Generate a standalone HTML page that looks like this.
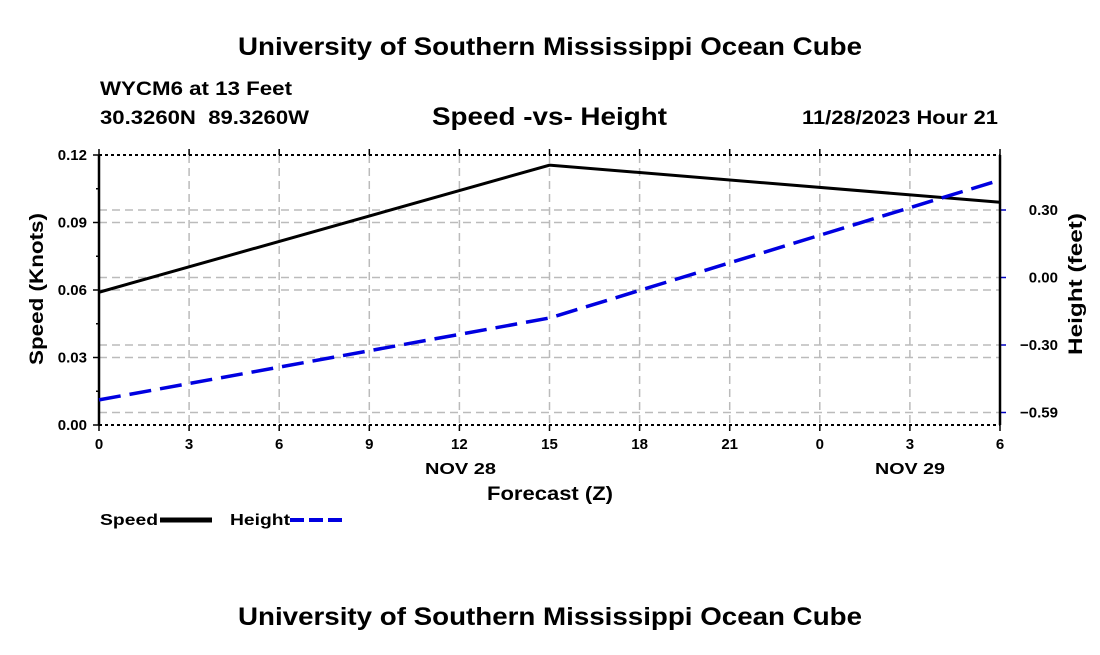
<!DOCTYPE html>
<html><head><meta charset="utf-8"><style>
body{margin:0;background:#fff;width:1100px;height:650px;overflow:hidden}
svg text{font-family:"Liberation Sans",Arial,sans-serif;font-weight:bold;fill:#000}
</style></head><body>
<svg id="chart" width="1100" height="650" xmlns="http://www.w3.org/2000/svg">
<text x="238" y="55" font-size="25" textLength="624" lengthAdjust="spacingAndGlyphs">University of Southern Mississippi Ocean Cube</text>
<text x="100" y="95" font-size="19" textLength="192" lengthAdjust="spacingAndGlyphs">WYCM6 at 13 Feet</text>
<text x="100" y="124" font-size="19" textLength="209" lengthAdjust="spacingAndGlyphs" xml:space="preserve">30.3260N  89.3260W</text>
<text x="432" y="125" font-size="25" textLength="235" lengthAdjust="spacingAndGlyphs">Speed -vs- Height</text>
<text x="802" y="124" font-size="19" textLength="196" lengthAdjust="spacingAndGlyphs">11/28/2023 Hour 21</text>
<text x="238" y="625" font-size="25" textLength="624" lengthAdjust="spacingAndGlyphs">University of Southern Mississippi Ocean Cube</text>
<g id="grid"></g><g id="axes"></g><g id="series"></g>
<text transform="translate(43,365) rotate(-90)" font-size="19" textLength="152" lengthAdjust="spacingAndGlyphs">Speed (Knots)</text>
<text transform="translate(1082,355) rotate(-90)" font-size="19" textLength="142" lengthAdjust="spacingAndGlyphs">Height (feet)</text>
<text x="487" y="500" font-size="19" textLength="126" lengthAdjust="spacingAndGlyphs">Forecast (Z)</text>
<text x="425" y="474" font-size="16" textLength="71" lengthAdjust="spacingAndGlyphs">NOV 28</text>
<text x="875" y="474" font-size="16" textLength="70" lengthAdjust="spacingAndGlyphs">NOV 29</text>
<g><text x="100" y="525" font-size="16" textLength="58" lengthAdjust="spacingAndGlyphs">Speed</text><line x1="160" y1="520" x2="212" y2="520" stroke="#000" stroke-width="5"/></g>
<g><text x="230" y="525" font-size="16" textLength="60" lengthAdjust="spacingAndGlyphs">Height</text><line x1="290" y1="520" x2="342" y2="520" stroke="#0000e0" stroke-width="4" stroke-dasharray="14,5"/></g>
</svg>
<script>
const hours=[0,15,30];
const speedVals=[0.059,0.1155,0.099];
const heightVals=[-0.544,-0.18,0.433];
const xTickLabels=["0","3","6","9","12","15","18","21","0","3","6"];
const yTicks=[0,0.03,0.06,0.09,0.12];
const y2Ticks=[0.3,0,-0.3,-0.6];
const y2TickLabels=["0.30","0.00","\u22120.30","\u22120.59"];
const L=99,R=1000,T=155,B=425;
const xs=h=>L+h*(R-L)/30;
const ys=v=>B-v*(B-T)/0.12;
const y2s=v=>277.5-v*225;
const NS="http://www.w3.org/2000/svg";
function mk(tag,attrs,parent){const e=document.createElementNS(NS,tag);for(const k in attrs)e.setAttribute(k,attrs[k]);document.getElementById(parent).appendChild(e);return e;}
xTickLabels.forEach((lab,i)=>{const x=xs(i*3);
 if(i>0&&i<10){const g=mk('line',{x1:x,y1:T,x2:x,y2:B,stroke:'#bbb','stroke-width':1.5,'stroke-dasharray':'8,5'},'grid');
 
 }
 const t=mk('line',{x1:x,y1:B,x2:x,y2:B+6,stroke:'#000','stroke-width':1.5},'axes');
 
 
 mk('line',{x1:x,y1:T-6,x2:x,y2:T,stroke:'#000','stroke-width':1.5},'axes');
 const tx=mk('text',{x:x,y:B+24,'font-size':15,'text-anchor':'middle'},'axes');tx.textContent=lab;
 
 });
yTicks.forEach(v=>{const y=ys(v);
 if(v>0&&v<0.12){const g=mk('line',{x1:L,y1:y,x2:R,y2:y,stroke:'#bbb','stroke-width':1.5,'stroke-dasharray':'8,5'},'grid');
 
 }
 mk('line',{x1:L-6,y1:y,x2:L,y2:y,stroke:'#000','stroke-width':1.5},'axes');
 if(v<0.12)mk('line',{x1:L-3,y1:ys(v+0.015),x2:L,y2:ys(v+0.015),stroke:'#000','stroke-width':1.5},'axes');
 const tx=mk('text',{x:L-12,y:y+5,'font-size':15,'text-anchor':'end'},'axes');tx.textContent=v.toFixed(2);
 
 });
y2Ticks.forEach((v,i)=>{const y=y2s(v);
 const g=mk('line',{x1:L,y1:y,x2:R,y2:y,stroke:'#bbb','stroke-width':1.5,'stroke-dasharray':'8,5'},'grid');
 
 
 mk('line',{x1:R,y1:y,x2:R+6,y2:y,stroke:'#0000c0','stroke-width':1.5},'axes');
 const tx=mk('text',{x:1058,y:y+5,'font-size':15,'text-anchor':'end'},'axes');tx.textContent=y2TickLabels[i];
 
 });
mk('line',{x1:L,y1:T,x2:R,y2:T,stroke:'#000','stroke-width':2,'stroke-dasharray':'3,3'},'axes');
mk('line',{x1:L,y1:B,x2:R,y2:B,stroke:'#000','stroke-width':2,'stroke-dasharray':'3,3'},'axes');
mk('line',{x1:L,y1:T,x2:L,y2:B,stroke:'#000','stroke-width':2.5},'axes');
mk('line',{x1:R,y1:T,x2:R,y2:B,stroke:'#000','stroke-width':2.5},'axes');
const sp=mk('polyline',{points:hours.map((h,i)=>xs(h)+','+ys(speedVals[i])).join(' '),fill:'none',stroke:'#000','stroke-width':3},'series');


const hp=mk('polyline',{points:hours.map((h,i)=>xs(h)+','+y2s(heightVals[i])).join(' '),fill:'none',stroke:'#0000e0','stroke-width':3.5,'stroke-dasharray':'22,9'},'series');


</script>
</body></html>
